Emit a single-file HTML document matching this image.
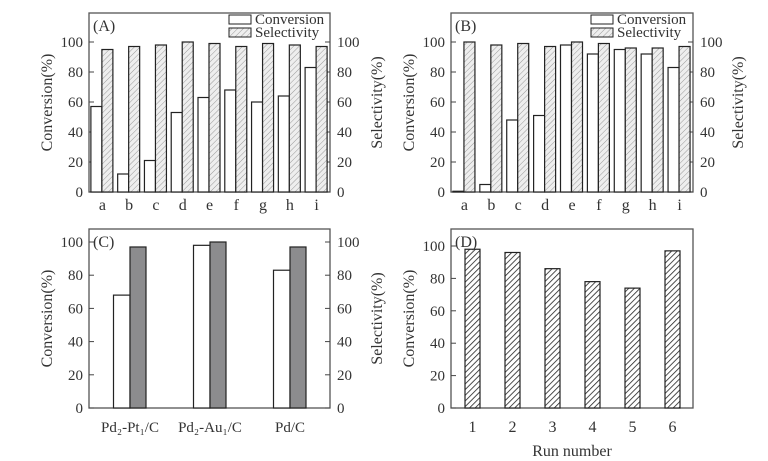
<!DOCTYPE html>
<html><head><meta charset="utf-8"><style>
body{margin:0;background:#fff}
svg{display:block;font-family:"Liberation Serif",serif}
</style></head><body>
<svg id="c" width="768" height="461" viewBox="0 0 768 461">
<defs>
<pattern id="hl" width="4" height="4" patternUnits="userSpaceOnUse" patternTransform="rotate(45)"><rect width="4" height="4" fill="#eee"/><line x1="0" y1="0" x2="0" y2="4" stroke="#999" stroke-width="1"/></pattern>
<pattern id="hd" width="4" height="4" patternUnits="userSpaceOnUse" patternTransform="rotate(45)"><rect width="4" height="4" fill="#fff"/><line x1="0" y1="0" x2="0" y2="4" stroke="#222" stroke-width="1.6"/></pattern>
</defs>
</svg>
<script>
const catsAB=['a','b','c','d','e','f','g','h','i'];
const convA=[57,12,21,53,63,68,60,64,83];
const selA=[95,97,98,100,99,97,99,98,97];
const convB=[0.5,5,48,51,98,92,95,92,83];
const selB=[100,98,99,97,100,99,96,96,97];
const catsC=['Pd₂-Pt₁/C','Pd₂-Au₁/C','Pd/C'];
const convC=[68,98,83];
const selC=[97,100,97];
const catsD=['1','2','3','4','5','6'];
const convD=[98,96,86,78,74,97];
const ticks=[0,20,40,60,80,100];

const svg=document.getElementById('c');
const NS='http://www.w3.org/2000/svg';
function el(t,a,txt){const e=document.createElementNS(NS,t);for(const k in a)e.setAttribute(k,a[k]);if(txt!=null)e.textContent=txt;svg.appendChild(e);return e;}

function panel(p){
  const y=v=>p.y0-(p.y0-p.y100)*v/100;
  const f=el('rect',{x:p.x0,y:p.top,width:p.x1-p.x0,height:p.y0-p.top,fill:'none',stroke:'#555','stroke-width':1.3});
  
  ticks.forEach(t=>{
    el('line',{x1:p.x0,x2:p.x0+5,y1:y(t),y2:y(t),stroke:'#444'});
    const l=el('text',{x:p.x0-6,y:y(t)+5,'text-anchor':'end','font-size':15,fill:'#333'},t);
    
    if(p.right){
      el('line',{x1:p.x1,x2:p.x1-5,y1:y(t),y2:y(t),stroke:'#444'});
      const r=el('text',{x:p.x1+7,y:y(t)+5,'font-size':15,fill:'#333'},t);
      
    }
  });
  p.cats.forEach((c,i)=>{
    const cx=p.cx(i);
    p.series.forEach((s,j)=>{
      const v=s.data[i];
      const b=el('rect',{x:cx+s.off,y:y(v),width:s.w,height:p.y0-y(v),fill:s.fill,stroke:'#222','stroke-width':1.2});
      
      
    });
    const t=el('text',{x:cx,y:p.labY,'text-anchor':'middle','font-size':p.labFs||16,fill:'#333'},c);
    
  });
  const lt=el('text',{x:p.x0+4,y:p.top+p.tagDy,'font-size':16,fill:'#333'},p.tag);
  
  const yt=el('text',{transform:`translate(${p.ltx},${(p.y0+p.top)/2}) rotate(-90)`,'text-anchor':'middle','font-size':16,fill:'#333'},'Conversion(%)');
  
  if(p.right){
    const rt=el('text',{transform:`translate(${p.rtx},${(p.y0+p.top)/2}) rotate(-90)`,'text-anchor':'middle','font-size':16,fill:'#333'},'Selectivity(%)');
    
  }
  if(p.legend){
    [['Conversion','#fff'],['Selectivity','url(#hl)']].forEach((L,k)=>{
      const bx=el('rect',{x:p.legend,y:15+k*13,width:22,height:9,fill:L[1],stroke:'#222'});
      
      const tx=el('text',{x:p.legend+26,y:24+k*13,'font-size':15,fill:'#333'},L[0]);
      
    });
  }
}
const gw=241/9;
panel({id:'panel-a',x0:89,x1:330,top:13,y0:192,y100:42,right:true,cats:catsAB,cx:i=>89+gw*(i+0.5),labY:210,
  series:[{name:'conversion',data:convA,off:-11.5,w:11,fill:'#fff'},{name:'selectivity',data:selA,off:-0.5,w:11,fill:'url(#hl)'}],
  tag:'(A)',tagDy:18,ltx:52,rtx:382,legend:229});
panel({id:'panel-b',x0:451,x1:693,top:13,y0:192,y100:42,right:true,cats:catsAB,cx:i=>451+(242/9)*(i+0.5),labY:210,
  series:[{name:'conversion',data:convB,off:-11.5,w:11,fill:'#fff'},{name:'selectivity',data:selB,off:-0.5,w:11,fill:'url(#hl)'}],
  tag:'(B)',tagDy:18,ltx:414,rtx:743,legend:591});
panel({id:'panel-c',x0:89,x1:330,top:229,y0:408,y100:242,right:true,cats:catsC,cx:i=>130+80*i,labY:432,labFs:15,
  series:[{name:'conversion',data:convC,off:-16.5,w:16.5,fill:'#fff'},{name:'selectivity',data:selC,off:0,w:16,fill:'#8c8c8e'}],
  tag:'(C)',tagDy:18,ltx:52,rtx:382});
panel({id:'panel-d',x0:451,x1:693,top:229,y0:408,y100:246,right:false,cats:catsD,cx:i=>472.5+40*i,labY:432,
  series:[{name:'conversion',data:convD,off:-7.5,w:15,fill:'url(#hd)'}],
  tag:'(D)',tagDy:18,ltx:414});
const rn=el('text',{x:572,y:456,'text-anchor':'middle','font-size':16,fill:'#333'},'Run number');


</script>
</body></html>
